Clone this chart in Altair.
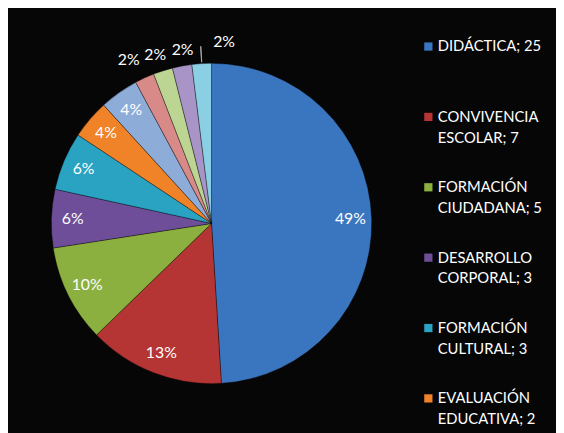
import altair as alt
import pandas as pd

# ---- data ----
categorias = [
    "DIDÁCTICA",
    "CONVIVENCIA\nESCOLAR",
    "FORMACIÓN\nCIUDADANA",
    "DESARROLLO\nCORPORAL",
    "FORMACIÓN\nCULTURAL",
    "EVALUACIÓN\nEDUCATIVA",
    "CATEGORÍA 7",
    "CATEGORÍA 8",
    "CATEGORÍA 9",
    "CATEGORÍA 10",
    "CATEGORÍA 11",
]
cantidades = [25, 7, 5, 3, 3, 2, 2, 1, 1, 1, 1]
porcentajes = ["49%", "13%", "10%", "6%", "6%", "4%", "4%", "2%", "2%", "2%", "2%"]
colores = [
    "#3A76C0", "#B53434", "#8BB03F", "#6E4E98", "#2AA2C1", "#F08228",
    "#8EACD8", "#D88A89", "#BDD593", "#A894C6", "#8ACFE4",
]
# only the first six legend entries fit on the visible page
VISIBLE_LEGEND = 6

df = pd.DataFrame({
    "idx": list(range(len(categorias))),
    "cat": categorias,
    "n": cantidades,
    "pct": porcentajes,
})

CX, CY = 206.5, 215.5
FONT = "Lato"

color = alt.Color("cat:N", scale=alt.Scale(domain=categorias, range=colores), legend=None)
base = alt.Chart(df)

pie = base.mark_arc(outerRadius=162.5, stroke="black", strokeOpacity=0.35, strokeWidth=1).encode(
    theta=alt.Theta("n:Q", stack=True),
    order=alt.Order("idx:Q"),
    color=color,
    x=alt.value(CX),
    y=alt.value(CY),
)

angles = base.transform_window(
    cum="sum(n)", sort=[alt.SortField("idx", order="ascending")]
).transform_calculate(
    mid="datum.cum - datum.n / 2", mid2="datum.cum - datum.n / 2 + 0.01"
)

txt_kw = dict(font=FONT, fontSize=16, color="white", align="center", baseline="middle")
polar = dict(theta=alt.Theta("mid:Q", stack=False), text="pct:N", x=alt.value(CX), y=alt.value(CY))

inside = angles.transform_filter("datum.idx < 7").mark_text(radius=141, **txt_kw).encode(**polar)

# outside labels of the small slices (label placement nudges, Excel-style)
label_layers = [inside]
for i, (ddx, ddy, rad) in zip([7, 8, 9, 10], [(-8, 0, 182), (-2, 3, 182), (4, 3, 182), (24, 0, 184)]):
    label_layers.append(
        angles.transform_filter(f"datum.idx == {i}")
        .mark_text(radius=rad, dx=ddx, dy=ddy, **txt_kw)
        .encode(**polar)
    )

leader = angles.transform_filter("datum.idx == 10").mark_arc(
    radius=180, radius2=164, filled=False, stroke="#A6A6A6", strokeWidth=1
).encode(
    theta=alt.Theta("mid:Q", stack=False), theta2="mid2:Q", x=alt.value(CX), y=alt.value(CY)
)

ypos = alt.Y("idx:Q", scale=alt.Scale(domain=[0, 5], range=[36, 393]), axis=None)
legend_base = base.transform_filter(f"datum.idx < {VISIBLE_LEGEND}")

leg_sq = legend_base.mark_square(size=70, opacity=1).encode(
    x=alt.value(426.5), y=ypos, color=color
)
leg_txt = legend_base.transform_calculate(
    lab="split(datum.cat + '; ' + datum.n, '\\n')"
).mark_text(
    align="left", baseline="alphabetic", dy=5, font=FONT, fontSize=15, lineHeight=21,
    color="white"
).encode(x=alt.value(436), y=ypos, text="lab:N")

chart = alt.layer(pie, *label_layers, leader, leg_sq, leg_txt).properties(
    width=556, height=425, background="#060606", padding=0,
    autosize=alt.AutoSizeParams(type="none"),
).configure_view(stroke=None, fill="#060606")

chart.save("out.html", embed_options={"renderer": "svg", "actions": False})
